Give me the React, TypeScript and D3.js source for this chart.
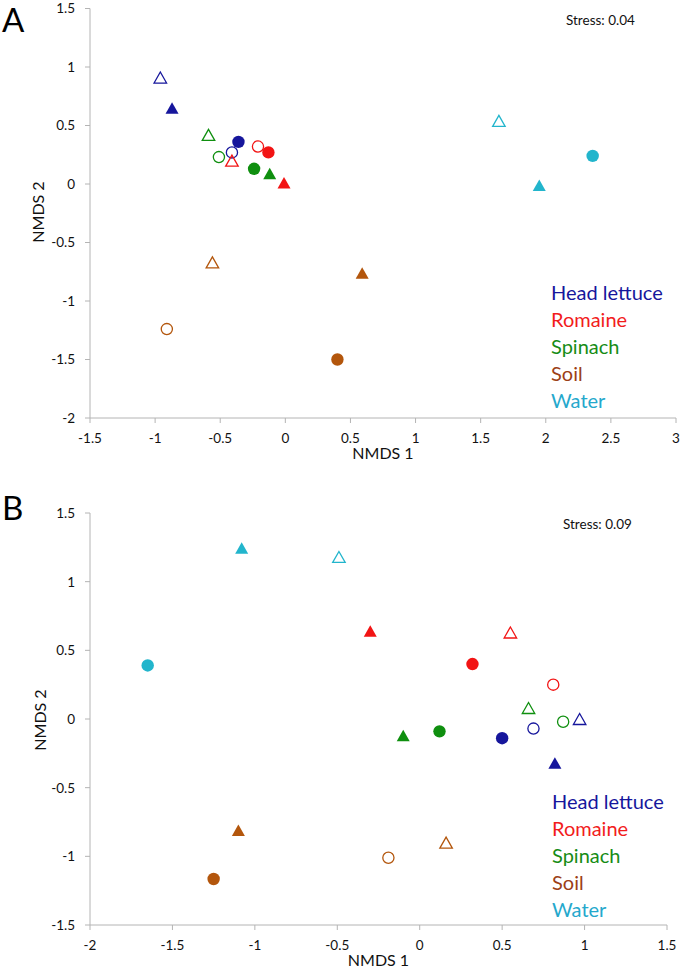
import React from "react";
import * as d3 from "d3";

// ---------- DATA ----------
const groups = ["Head lettuce", "Romaine", "Spinach", "Soil", "Water"];
const groupColors = ["#16169c", "#f21414", "#0f8f0f", "#b3560c", "#22b5cc"];
const legendColors = ["#16169c", "#f21c1c", "#168c16", "#9c4016", "#25a8cc"];

type P = [number, number] | null;

// Panel A (ordered as groups)
const aFilledCircle: P[] = [[-0.36, 0.36], [-0.13, 0.27], [-0.24, 0.13], [0.40, -1.50], [2.36, 0.24]];
const aOpenCircle: P[] = [[-0.41, 0.27], [-0.21, 0.32], [-0.51, 0.23], [-0.91, -1.24], null];
const aFilledTriangle: P[] = [[-0.87, 0.65], [-0.01, 0.01], [-0.12, 0.09], [0.59, -0.76], [1.95, -0.01]];
const aOpenTriangle: P[] = [[-0.96, 0.91], [-0.41, 0.20], [-0.59, 0.42], [-0.56, -0.67], [1.64, 0.54]];

// Panel B (ordered as groups)
const bFilledCircle: P[] = [[0.50, -0.14], [0.32, 0.40], [0.12, -0.09], [-1.25, -1.165], [-1.65, 0.39]];
const bOpenCircle: P[] = [[0.69, -0.07], [0.81, 0.25], [0.87, -0.02], [-0.19, -1.01], null];
const bFilledTriangle: P[] = [[0.82, -0.32], [-0.30, 0.64], [-0.10, -0.12], [-1.10, -0.81], [-1.08, 1.245]];
const bOpenTriangle: P[] = [[0.97, 0.0], [0.55, 0.63], [0.66, 0.08], [0.16, -0.90], [-0.49, 1.18]];

const aXTicks = [-1.5, -1, -0.5, 0, 0.5, 1, 1.5, 2, 2.5, 3];
const aYTicks = [-2, -1.5, -1, -0.5, 0, 0.5, 1, 1.5];
const bXTicks = [-2, -1.5, -1, -0.5, 0, 0.5, 1, 1.5];
const bYTicks = [-1.5, -1, -0.5, 0, 0.5, 1, 1.5];

const aStress = "Stress: 0.04";
const bStress = "Stress: 0.09";
const xTitle = "NMDS 1";
const yTitle = "NMDS 2";

// ---------- DRAWING ----------
const FONT = "Lato, 'Open Sans', sans-serif";
const AXIS = "#b4b4b4";
const TXT = "#111";

function triangle(w: number, h: number) {
  const p = d3.path();
  p.moveTo(0, -h / 2);
  p.lineTo(w / 2, h / 2);
  p.lineTo(-w / 2, h / 2);
  p.closePath();
  return p.toString();
}

type PanelProps = {
  xDomain: [number, number];
  xRange: [number, number];
  yDomain: [number, number];
  yRange: [number, number];
  xTicks: number[];
  yTicks: number[];
  filledCircle: P[];
  openCircle: P[];
  filledTriangle: P[];
  openTriangle: P[];
  letter: string;
  letterY: number;
  stress: string;
  stressX: number;
  stressY: number;
  legendX: number;
  legendY: number;
  yTitleX: number;
  yTitleY: number;
};

function Panel(props: PanelProps) {
  const x = d3.scaleLinear().domain(props.xDomain).range(props.xRange);
  const y = d3.scaleLinear().domain(props.yDomain).range(props.yRange);
  const x0 = props.xRange[0];
  const yBottom = props.yRange[0];
  const yTop = props.yRange[1];
  const xRight = props.xRange[1];
  const filledTri = triangle(13, 11.5);
  const openTri = triangle(12.5, 11);

  const marks: React.ReactNode[] = [];
  groups.forEach((g, i) => {
    const c = groupColors[i];
    const oc = props.openCircle[i];
    if (oc)
      marks.push(
        <circle key={`oc${i}`} cx={x(oc[0])} cy={y(oc[1])} r={5.6} fill="none" stroke={c} strokeWidth={1.3} />
      );
    const ot = props.openTriangle[i];
    if (ot)
      marks.push(
        <path key={`ot${i}`} d={openTri} transform={`translate(${x(ot[0])},${y(ot[1])})`} fill="none" stroke={c} strokeWidth={1.3} />
      );
    const fc = props.filledCircle[i];
    if (fc) marks.push(<circle key={`fc${i}`} cx={x(fc[0])} cy={y(fc[1])} r={6.2} fill={c} />);
    const ft = props.filledTriangle[i];
    if (ft)
      marks.push(
        <path key={`ft${i}`} d={filledTri} transform={`translate(${x(ft[0])},${y(ft[1])})`} fill={c} />
      );
  });

  return (
    <g>
      <text x={2} y={props.letterY} fontFamily={FONT} fontSize={33} fill="#000">
        {props.letter}
      </text>
      {/* y axis */}
      <line x1={x0} x2={x0} y1={yTop} y2={yBottom} stroke={AXIS} strokeWidth={1} />
      {props.yTicks.map((t) => (
        <g key={`yt${t}`}>
          <line x1={x0 - 5} x2={x0} y1={y(t)} y2={y(t)} stroke={AXIS} />
          <text x={x0 - 15} y={y(t)} dy="0.36em" textAnchor="end" fontFamily={FONT} fontSize={13.5} fill={TXT}>
            {String(t)}
          </text>
        </g>
      ))}
      {/* x axis */}
      <line x1={x0} x2={xRight} y1={yBottom} y2={yBottom} stroke={AXIS} strokeWidth={1} />
      {props.xTicks.map((t) => (
        <g key={`xt${t}`}>
          <line x1={x(t)} x2={x(t)} y1={yBottom} y2={yBottom + 5} stroke={AXIS} />
          <text x={x(t)} y={yBottom + 25} textAnchor="middle" fontFamily={FONT} fontSize={13.5} fill={TXT}>
            {String(t)}
          </text>
        </g>
      ))}
      <text x={(x0 + xRight) / 2} y={yBottom + 41} textAnchor="middle" fontFamily={FONT} fontSize={16} fill={TXT}>
        {xTitle}
      </text>
      <text
        transform={`translate(${props.yTitleX},${props.yTitleY}) rotate(-90)`}
        textAnchor="middle"
        dy="0.36em"
        fontFamily={FONT}
        fontSize={16}
        fill={TXT}
      >
        {yTitle}
      </text>
      <text x={props.stressX} y={props.stressY} fontFamily={FONT} fontSize={13.5} fill={TXT}>
        {props.stress}
      </text>
      {marks}
      {groups.map((g, i) => (
        <text key={`lg${i}`} x={props.legendX} y={props.legendY + i * 27} fontFamily={FONT} fontSize={20} fill={legendColors[i]}>
          {g}
        </text>
      ))}
    </g>
  );
}

export default function App() {
  return (
    <svg width={680} height={973} style={{ position: "absolute", left: 0, top: 0, background: "#fff" }}>
      <rect x={0} y={0} width={680} height={973} fill="#fff" />
      <Panel
        xDomain={[-1.5, 3]}
        xRange={[90, 676]}
        yDomain={[-2, 1.5]}
        yRange={[418, 8.5]}
        xTicks={aXTicks}
        yTicks={aYTicks}
        filledCircle={aFilledCircle}
        openCircle={aOpenCircle}
        filledTriangle={aFilledTriangle}
        openTriangle={aOpenTriangle}
        letter="A"
        letterY={32}
        stress={aStress}
        stressX={566}
        stressY={25}
        legendX={551}
        legendY={300}
        yTitleX={38}
        yTitleY={212}
      />
      <Panel
        xDomain={[-2, 1.5]}
        xRange={[90, 667]}
        yDomain={[-1.5, 1.5]}
        yRange={[925, 513]}
        xTicks={bXTicks}
        yTicks={bYTicks}
        filledCircle={bFilledCircle}
        openCircle={bOpenCircle}
        filledTriangle={bFilledTriangle}
        openTriangle={bOpenTriangle}
        letter="B"
        letterY={520}
        stress={bStress}
        stressX={563}
        stressY={529}
        legendX={552}
        legendY={809}
        yTitleX={40}
        yTitleY={720}
      />
    </svg>
  );
}
